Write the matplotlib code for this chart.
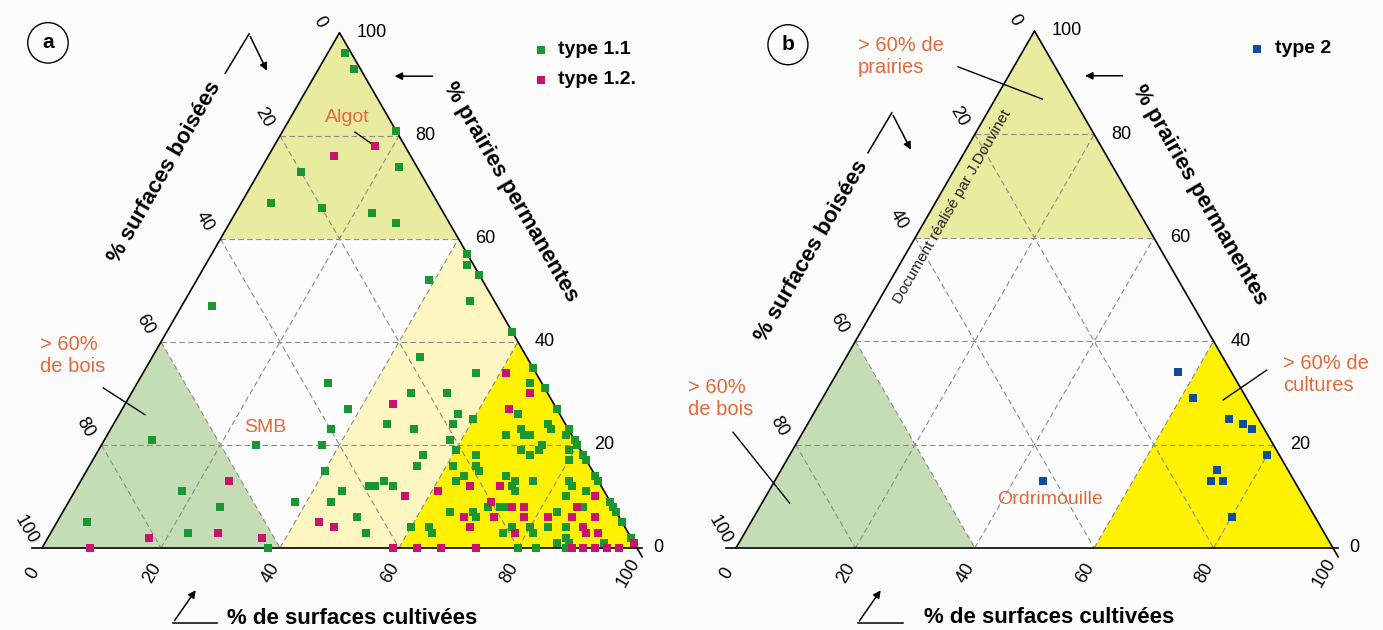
import numpy as np
import matplotlib.pyplot as plt
from matplotlib.patches import Polygon, Circle

plt.rcParams['font.family'] = ['Liberation Sans', 'DejaVu Sans']

# % surfaces cultivees / % prairies permanentes (bois = 100 - les deux)
t11_cult = [3, 6, 19, 23, 7, 5, 14, 23, 28, 39, 5, 43, 44, 47, 48, 32, 38, 37, 37, 26,
            8, 40, 45, 44, 38, 18, 26, 23, 5, 38, 50, 45, 47, 53, 57, 46, 51, 57, 58, 60,
            55, 55, 61, 63, 51, 53, 49, 50, 53, 60, 63, 64, 65, 58, 56, 65, 66, 69, 73, 73,
            67, 60, 67, 69, 70, 71, 74, 77, 77, 79, 80, 79, 74, 74, 73, 71, 82, 64, 65, 66,
            64, 71, 73, 73, 74, 76, 80, 83, 86, 87, 82, 83, 86, 83, 87, 91, 92, 93, 95, 98,
            69, 70, 71, 73, 74, 76, 77, 80, 83, 82, 80, 83, 86, 81, 87, 86, 88, 94, 83, 88]
t11_prai = [96, 93, 81, 74, 73, 67, 66, 65, 63, 52, 47, 57, 55, 53, 48, 32, 27, 23, 20, 20,
            21, 15, 11, 9, 9, 11, 8, 3, 5, 0, 6, 37, 30, 30, 26, 24, 23, 24, 21, 19,
            18, 16, 16, 13, 13, 12, 12, 12, 3, 4, 4, 3, 7, 42, 34, 35, 32, 31, 27, 24,
            26, 25, 22, 23, 22, 22, 23, 23, 22, 21, 20, 19, 20, 19, 18, 19, 18, 18, 16, 15,
            14, 14, 13, 12, 11, 13, 17, 17, 14, 13, 13, 12, 11, 10, 8, 9, 8, 7, 5, 2,
            7, 6, 8, 8, 8, 3, 4, 0, 7, 6, 4, 4, 4, 3, 2, 1, 1, 1, 0, 0]

t12_cult = [11, 17, 25, 28, 17, 8, 36, 44, 47, 45, 56, 59, 63, 67, 73, 61, 67, 65, 61, 66,
            71, 71, 75, 77, 73, 68, 70, 78, 78, 88, 86, 82, 86, 90, 89, 92, 90, 89, 91, 93,
            95, 97, 99]
t12_prai = [76, 78, 13, 3, 2, 0, 2, 5, 4, 28, 10, 0, 0, 0, 0, 34, 30, 27, 11, 12,
            12, 9, 8, 8, 6, 6, 4, 6, 3, 10, 8, 6, 6, 6, 4, 3, 3, 0, 0, 0,
            0, 0, 1]

t2_cult = [57, 62, 70, 73, 75, 80, 73, 73, 75, 80, 45]
t2_prai = [34, 29, 25, 24, 23, 18, 15, 13, 13, 6, 13]

ticks = [0, 20, 40, 60, 80, 100]
grid_vals = [20, 40, 60, 80]

GREEN, MAGENTA, BLUE = '#1a9632', '#c8146e', '#0f4c9e'
ORANGE = '#e4693a'
W, H, BASE = 1383, 630, 548


def tern(c, p):
    c = np.asarray(c, float)
    p = np.asarray(p, float)
    return c + p / 2, p * np.sqrt(3) / 2


def zone(ax, pts, color):
    x, y = tern([q[0] for q in pts], [q[1] for q in pts])
    ax.add_patch(Polygon(np.column_stack([x, y]), closed=True, fc=color, ec='none', zorder=1))


def panel(left, width, x0, scale):
    ax = fig.add_axes([left / W, 0, width / W, 1])
    ax.set_xlim((left - x0) / scale, (left + width - x0) / scale)
    ax.set_ylim((BASE - H) / scale, BASE / scale)
    ax.axis('off')
    return ax


def bent_arrow(ax, pts):
    ax.plot([pts[0][0], pts[1][0]], [pts[0][1], pts[1][1]], color='k', lw=1.1)
    ax.annotate('', xy=pts[2], xytext=pts[1],
                arrowprops=dict(arrowstyle='-|>', color='k', lw=1.1, mutation_scale=11))


def frame(ax, strip):
    zone(ax, [(0, 60), (40, 60), (0, 100)], '#e9eb9f')
    zone(ax, [(0, 0), (40, 0), (0, 40)], '#c4ddb5')
    zone(ax, [(60, 0), (100, 0), (60, 40)], '#fff200')
    if strip:
        zone(ax, [(40, 0), (60, 0), (60, 40), (40, 60)], '#fdf6c0')
    for v in grid_vals:
        for (c1, p1), (c2, p2) in [((0, v), (100 - v, v)), ((v, 0), (v, 100 - v)),
                                   ((0, 100 - v), (100 - v, 0))]:
            x, y = tern([c1, c2], [p1, p2])
            ax.plot(x, y, color='#8c8c8c', lw=0.8, ls=(0, (5, 3)), zorder=2)
    x, y = tern([0, 0, 101.7], [0, 100, -1.7])
    ax.plot(x, y, color='k', lw=1.2, zorder=3)
    ax.plot([-1.7, 100.8], [0, 0], color='k', lw=1.2, zorder=3)
    for v in ticks:
        x, y = tern(v, 0)
        ax.text(x - 1.5, y - 4.2, str(v), rotation=60, ha='center', va='center', fontsize=13)
        x, y = tern(100 - v, v)
        ax.text(x + 2.8, y, str(v), ha='left', va='center', fontsize=13)
        x, y = tern(0, 100 - v)
        dx, dy = (-3.3, 1.8) if v == 0 else (-2.7, 3.0)
        ax.text(x + dx, y + dy, str(v), rotation=-60, ha='center', va='center', fontsize=13)


def points(ax, cult, prai, color):
    x, y = tern(cult, prai)
    ax.scatter(x, y, s=38, marker='s', color=color, lw=0, zorder=4)


fig = plt.figure(figsize=(13.83, 6.3), dpi=100, facecolor='#fcfcfc')
title_kw = dict(fontsize=16, fontweight='bold', ha='center', va='center')
orange_kw = dict(color=ORANGE, fontsize=14.5)

# ---- panel a
ax = panel(0, 691, 42, 5.95)
frame(ax, True)
points(ax, t11_cult, t11_prai, GREEN)
points(ax, t12_cult, t12_prai, MAGENTA)
ax.add_patch(Circle((1.0, 84.9), 3.4, fill=False, ec='k', lw=1))
ax.text(1.0, 84.9, 'a', fontsize=15, fontweight='bold', ha='center', va='center')
ax.text(20.7, 63.2, '% surfaces boisées', rotation=60, **title_kw)
bent_arrow(ax, [(30.8, 79.8), (34.8, 86.4), (38.0, 79.8)])
ax.text(78.7, 59.8, '% prairies permanentes', rotation=-60, **title_kw)
ax.annotate('', xy=(58.8, 79.3), xytext=(66.1, 79.3),
            arrowprops=dict(arrowstyle='-|>', color='k', lw=1.1, mutation_scale=11))
ax.text(52.1, -11.8, '% de surfaces cultivées', **title_kw)
bent_arrow(ax, [(29.4, -12.6), (22.0, -12.6), (26.1, -6.7)])
ax.scatter([83.9], [83.7], s=34, marker='s', color=GREEN, lw=0)
ax.text(86.7, 83.7, 'type 1.1', fontsize=14, fontweight='bold', va='center')
ax.scatter([83.9], [78.7], s=34, marker='s', color=MAGENTA, lw=0)
ax.text(86.7, 78.7, 'type 1.2.', fontsize=14, fontweight='bold', va='center')
ax.text(51.3, 72.3, 'Algot', ha='center', va='center', color=ORANGE, fontsize=14)
ax.plot([52.6, 55.3], [69.9, 68.0], color='k', lw=1)
ax.text(-0.3, 32.4, '> 60%\nde bois', ha='left', va='center', linespacing=1.2, **orange_kw)
ax.plot([10.3, 17.3], [26.9, 22.4], color='k', lw=1)
ax.text(37.5, 20.3, 'SMB', ha='center', va='center', color=ORANGE, fontsize=14)

# ---- panel b
ax = panel(691, 692, 736, 5.97)
frame(ax, False)
points(ax, t2_cult, t2_prai, BLUE)
ax.add_patch(Circle((8.7, 84.3), 3.35, fill=False, ec='k', lw=1))
ax.text(8.7, 84.3, 'b', fontsize=15, fontweight='bold', ha='center', va='center')
ax.text(12.6, 49.7, '% surfaces boisées', rotation=60, **title_kw)
bent_arrow(ax, [(22.1, 66.2), (26.1, 72.9), (29.5, 66.3)])
ax.text(77.7, 59.1, '% prairies permanentes', rotation=-60, **title_kw)
ax.annotate('', xy=(58.0, 79.1), xytext=(65.2, 79.1),
            arrowprops=dict(arrowstyle='-|>', color='k', lw=1.1, mutation_scale=11))
ax.text(52.4, -11.7, '% de surfaces cultivées', **title_kw)
bent_arrow(ax, [(28.0, -12.6), (20.4, -12.6), (24.5, -6.7)])
ax.scatter([87.3], [83.6], s=34, marker='s', color=BLUE, lw=0)
ax.text(90.3, 83.6, 'type 2', fontsize=14, fontweight='bold', va='center')
ax.text(20.4, 82.3, '> 60% de\nprairies', ha='left', va='center', linespacing=1.2, **orange_kw)
ax.plot([37.2, 51.3], [80.6, 75.2], color='k', lw=1)
ax.text(-8.0, 25.0, '> 60%\nde bois', ha='left', va='center', linespacing=1.2, **orange_kw)
ax.plot([-0.5, 9.0], [19.4, 7.5], color='k', lw=1)
ax.text(91.6, 29.0, '> 60% de\ncultures', ha='left', va='center', linespacing=1.2, **orange_kw)
ax.plot([88.9, 81.6], [29.8, 24.8], color='k', lw=1)
ax.text(52.6, 8.2, 'Ordrimouille', ha='center', va='center', color=ORANGE, fontsize=14)
ax.text(36.3, 57.1, 'Document réalisé par J.Douvinet', rotation=60, ha='center', va='center',
        fontsize=11, color='#222222')

fig.savefig('out.png', dpi=100, facecolor=fig.get_facecolor())
